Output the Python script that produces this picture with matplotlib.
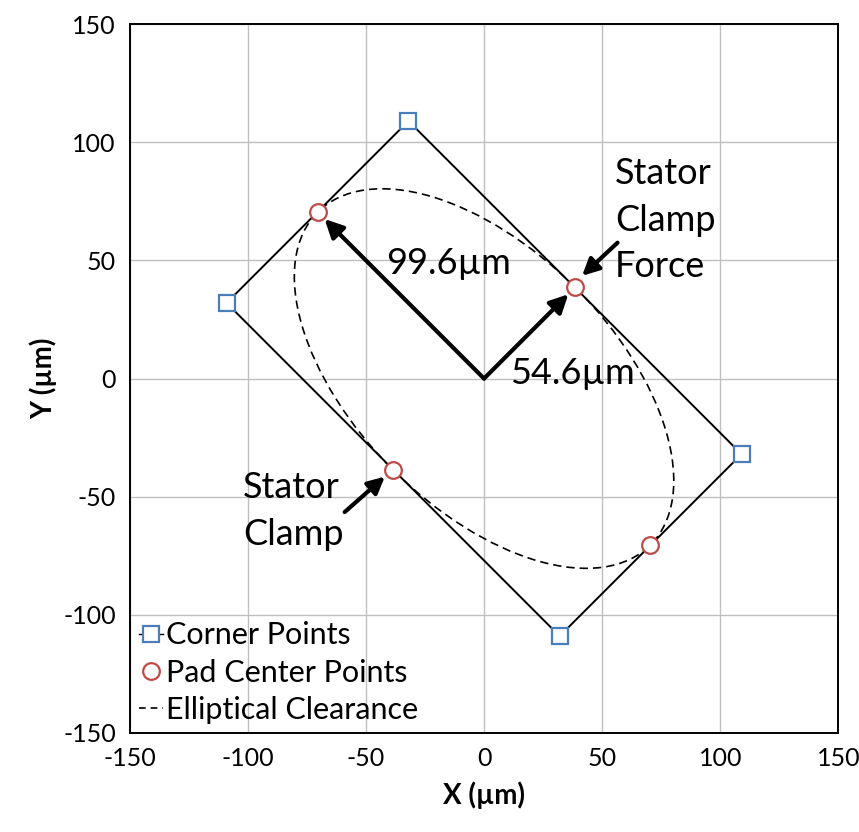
import matplotlib.pyplot as plt
from matplotlib.patches import Ellipse
from matplotlib.lines import Line2D

plt.rcParams['font.family'] = ['Lato', 'DejaVu Sans']
plt.rcParams['axes.unicode_minus'] = False

# -------------------------------------------------
# Data
# -------------------------------------------------
corner_x = [-32, 109, 32, -109, -32]
corner_y = [109, -32, -109, 32, 109]

pad_x = [-70.4, 38.6, -38.6, 70.4]
pad_y = [70.4, 38.6, -38.6, -70.4]

ellipse_major = 99.6   # semi-axis along the 135 deg direction
ellipse_minor = 54.6
ellipse_angle = 135

ticks = [-150, -100, -50, 0, 50, 100, 150]

# -------------------------------------------------
# Figure
# -------------------------------------------------
fig = plt.figure(figsize=(8.59, 8.32), dpi=100)
ax = fig.add_axes([0.151, 0.119, 0.825, 0.852])

ax.set_xlim(-150, 150)
ax.set_ylim(-150, 150)
ax.set_xticks(ticks)
ax.set_yticks(ticks)
ax.tick_params(length=0, labelsize=18, pad=10)
ax.grid(True, color='#bfbfbf', linewidth=1.0)
ax.set_axisbelow(True)
for s in ax.spines.values():
    s.set_linewidth(1.4)
    s.set_color('black')

# rectangle through the corners
ax.plot(corner_x, corner_y, color='black', linewidth=1.4, zorder=3)

# elliptical clearance
ell = Ellipse((0, 0), width=2 * ellipse_major, height=2 * ellipse_minor,
              angle=ellipse_angle, fill=False, edgecolor='black',
              linestyle=(0, (5, 3)), linewidth=1.2, zorder=3)
ax.add_patch(ell)

# radius arrows from origin
arrow_kw = dict(arrowstyle='-|>,head_length=1.1,head_width=0.55', color='black',
                lw=3, shrinkA=0, shrinkB=7)
ax.annotate('', xy=(pad_x[0], pad_y[0]), xytext=(0, 0), arrowprops=arrow_kw, zorder=4)
ax.annotate('', xy=(pad_x[1], pad_y[1]), xytext=(0, 0), arrowprops=arrow_kw, zorder=4)

# pointer arrows
ptr_kw = dict(arrowstyle='-|>,head_length=1.0,head_width=0.5', color='black',
              lw=3, shrinkA=0, shrinkB=0)
ax.annotate('', xy=(41.5, 43.5), xytext=(56.5, 57.5), arrowprops=ptr_kw, zorder=4)
ax.annotate('', xy=(-42, -41.5), xytext=(-59, -56.5), arrowprops=ptr_kw, zorder=4)

# markers
ax.plot(corner_x[:-1], corner_y[:-1], linestyle='none', marker='s', markersize=12,
        markerfacecolor='white', markeredgecolor='#4a7ebb', markeredgewidth=1.6, zorder=5)
ax.plot(pad_x, pad_y, linestyle='none', marker='o', markersize=12,
        markerfacecolor='white', markeredgecolor='#be4b48', markeredgewidth=1.6, zorder=5)

# text labels
ax.text(-41.5, 48.5, '99.6µm', fontsize=26, va='center', ha='left', zorder=6)
ax.text(11, 2, '54.6µm', fontsize=26, va='center', ha='left', zorder=6)
ax.text(55.5, 67, 'Stator\nClamp\nForce', fontsize=26, va='center', ha='left',
        linespacing=1.5, zorder=6)
ax.text(-102, -56, 'Stator\nClamp', fontsize=26, va='center', ha='left',
        linespacing=1.5, zorder=6)

ax.set_xlabel('X (µm)', fontsize=20, fontweight='bold', labelpad=8)
ax.set_ylabel('Y (µm)', fontsize=20, fontweight='bold', labelpad=4)

# legend
handles = [
    Line2D([], [], color='black', linewidth=1.0, marker='s', markersize=12,
           markerfacecolor='white', markeredgecolor='#4a7ebb', markeredgewidth=1.6),
    Line2D([], [], linestyle='none', marker='o', markersize=12,
           markerfacecolor='white', markeredgecolor='#be4b48', markeredgewidth=1.6),
    Line2D([], [], color='black', linestyle=(0, (4, 3)), linewidth=1.2),
]
labels = ['Corner Points', 'Pad Center Points', 'Elliptical Clearance']
ax.legend(handles, labels, loc='lower left', frameon=False, fontsize=22,
          handlelength=0.8, handletextpad=0.1, labelspacing=0.3,
          borderaxespad=0.1, borderpad=0.2)

fig.savefig('out.png', dpi=100)
